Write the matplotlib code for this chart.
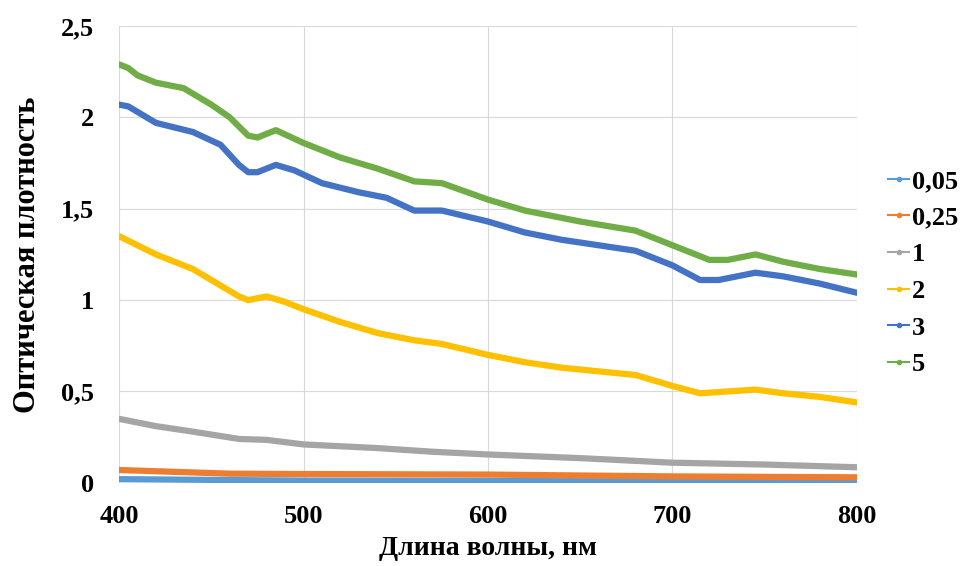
import numpy as np
import matplotlib
matplotlib.use("Agg")
import matplotlib.pyplot as plt
from matplotlib.ticker import FuncFormatter

# Wavelengths (nm) and optical density
wl_5 = [400, 405, 410, 420, 435, 450, 460, 470, 475, 485, 500, 520, 540, 560, 575, 600,
        620, 650, 680, 700, 720, 730, 745, 760, 780, 800]
od_5 = [2.29, 2.27, 2.23, 2.19, 2.16, 2.07, 2.00, 1.90, 1.89, 1.93, 1.86, 1.78, 1.72, 1.65, 1.64, 1.55,
        1.49, 1.43, 1.38, 1.30, 1.22, 1.22, 1.25, 1.21, 1.17, 1.14]

wl_3 = [400, 405, 410, 420, 440, 455, 465, 470, 475, 485, 495, 510, 530, 545, 560, 575, 600,
        620, 640, 660, 680, 700, 715, 725, 745, 760, 780, 800]
od_3 = [2.07, 2.06, 2.03, 1.97, 1.92, 1.85, 1.74, 1.70, 1.70, 1.74, 1.71, 1.64, 1.59, 1.56, 1.49, 1.49, 1.43,
        1.37, 1.33, 1.30, 1.27, 1.19, 1.11, 1.11, 1.15, 1.13, 1.09, 1.04]

wl_2 = [400, 420, 440, 455, 465, 470, 480, 490, 500, 520, 540, 560, 575, 600, 620, 640,
        660, 680, 700, 715, 730, 745, 760, 780, 800]
od_2 = [1.35, 1.25, 1.17, 1.08, 1.02, 1.00, 1.02, 0.99, 0.95, 0.88, 0.82, 0.78, 0.76, 0.70, 0.66, 0.63,
        0.61, 0.59, 0.53, 0.49, 0.50, 0.51, 0.49, 0.47, 0.44]

wl_1 = [400, 420, 440, 465, 480, 500, 540, 570, 600, 650, 700, 750, 800]
od_1 = [0.35, 0.31, 0.28, 0.24, 0.235, 0.21, 0.19, 0.17, 0.155, 0.135, 0.11, 0.10, 0.085]

wl_025 = [400, 460, 500, 600, 700, 800]
od_025 = [0.07, 0.05, 0.048, 0.045, 0.035, 0.03]

wl_005 = [400, 460, 500, 600, 700, 800]
od_005 = [0.02, 0.015, 0.012, 0.01, 0.007, 0.005]

labels = ["0,05", "0,25", "1", "2", "3", "5"]
colors = ["#5B9BD5", "#ED7D31", "#A5A5A5", "#FFC000", "#4472C4", "#70AD47"]
series = [(wl_005, od_005), (wl_025, od_025), (wl_1, od_1),
          (wl_2, od_2), (wl_3, od_3), (wl_5, od_5)]

plt.rcParams['font.family'] = ['Liberation Serif', 'DejaVu Serif']
plt.rcParams['font.weight'] = 'bold'

fig = plt.figure(figsize=(9.76, 5.66), dpi=100)
ax = fig.add_axes([0.122, 0.147, 0.756, 0.807])

for (x, y), lab, c in zip(series, labels, colors):
    ax.plot(x, y, color=c, lw=4.5, label=lab, solid_capstyle='round',
            solid_joinstyle='round')

ax.set_xlim(400, 800)
ax.set_ylim(0, 2.5)
ax.set_xticks([400, 500, 600, 700, 800])
ax.set_yticks([0, 0.5, 1, 1.5, 2, 2.5])
ax.yaxis.set_major_formatter(FuncFormatter(lambda v, p: ("%g" % v).replace(".", ",")))
ax.grid(True, color="#D9D9D9", lw=0.8)
ax.set_axisbelow(True)
for s in ax.spines.values():
    s.set_visible(False)
ax.tick_params(length=0, labelsize=19)
ax.tick_params(axis='y', pad=18)
ax.tick_params(axis='x', pad=16)
for t in ax.get_xticklabels() + ax.get_yticklabels():
    t.set_fontweight('bold')

ax.set_xlabel("Длина волны, нм", fontsize=20, fontweight='bold', labelpad=6)
ax.set_ylabel("Оптическая плотность", fontsize=22, fontweight='bold', labelpad=14)

# legend uses short thin lines with a small dot like the original
handles = [plt.Line2D([], [], color=c, lw=1.5, marker='o', markersize=3) for c in colors]
leg = fig.legend(handles, labels, loc='center left', bbox_to_anchor=(0.910, 0.518),
                 frameon=False, handlelength=0.8, handletextpad=0.1,
                 labelspacing=0.5, borderpad=0, borderaxespad=0,
                 prop={'weight': 'bold', 'size': 19})

fig.savefig("out.png", dpi=100)
